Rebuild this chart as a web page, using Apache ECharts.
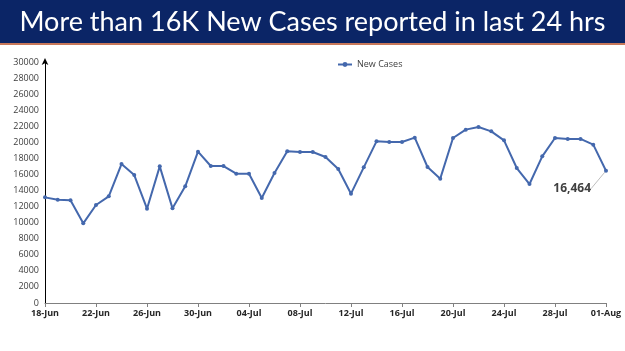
<!DOCTYPE html>
<html>
<head>
<meta charset="utf-8">
<title>New Cases</title>
<script src="https://cdn.jsdelivr.net/npm/echarts@6/dist/echarts.min.js"></script>
<style>
  html, body { margin: 0; padding: 0; background: #fff; }
  #main { width: 625px; height: 351px; }
</style>
</head>
<body>
<div id="main"></div>
<script>
// days from 18-Jun to 01-Aug
var dates = ['18-Jun','19-Jun','20-Jun','21-Jun','22-Jun','23-Jun','24-Jun','25-Jun','26-Jun','27-Jun','28-Jun','29-Jun','30-Jun',
  '01-Jul','02-Jul','03-Jul','04-Jul','05-Jul','06-Jul','07-Jul','08-Jul','09-Jul','10-Jul','11-Jul','12-Jul','13-Jul','14-Jul','15-Jul',
  '16-Jul','17-Jul','18-Jul','19-Jul','20-Jul','21-Jul','22-Jul','23-Jul','24-Jul','25-Jul','26-Jul','27-Jul','28-Jul','29-Jul','30-Jul',
  '31-Jul','01-Aug'];
var newCases = [13150, 12860, 12780, 9920, 12200, 13280, 17300, 15930, 11740, 17010, 11780, 14520, 18840,
  17050, 17050, 16100, 16100, 13070, 16180, 18880, 18800, 18800, 18170, 16680, 13610, 16890, 20120, 20040,
  20040, 20580, 16930, 15480, 20540, 21580, 21910, 21370, 20250, 16800, 14810, 18260, 20540, 20420, 20420,
  19710, 16464];
var titleText = 'More than 16K New Cases reported in last 24 hrs';

var chart = echarts.init(document.getElementById('main'));

var seriesData = newCases.map(function (v, i) {
  if (i === newCases.length - 1) {
    return {
      value: v,
      label: {
        show: true,
        position: 'left',
        formatter: function (p) { return p.value.toLocaleString('en-US'); },
        fontSize: 12,
        fontWeight: 'bold',
        color: '#404040',
        fontFamily: 'Open Sans'
      },
      labelLine: { show: true, lineStyle: { color: '#bfbfbf', width: 1 } }
    };
  }
  return v;
});

chart.setOption({
  animation: false,
  backgroundColor: '#fff',
  graphic: [
    { type: 'rect', shape: { x: 0, y: 0, width: 625, height: 43 }, style: { fill: '#0b2566' } },
    { type: 'rect', shape: { x: 0, y: 43, width: 625, height: 2 }, style: { fill: '#c8785a' } }
  ],
  title: {
    text: titleText,
    left: 'center',
    top: 4,
    textStyle: { color: '#fff', fontSize: 27, fontWeight: 'normal', fontFamily: 'Lato' }
  },
  legend: {
    data: ['New Cases'],
    left: 332,
    top: 55,
    itemWidth: 14,
    itemHeight: 6,
    itemGap: 2,
    textStyle: { fontSize: 9, color: '#404040', fontFamily: 'Open Sans' }
  },
  grid: { left: 45, right: 19, top: 62, bottom: 48, containLabel: false },
  xAxis: {
    type: 'category',
    data: dates,
    boundaryGap: false,
    axisLine: { lineStyle: { color: '#808080' } },
    axisTick: { show: true, interval: 3, length: 4, lineStyle: { color: '#808080' } },
    axisLabel: { interval: 3, fontSize: 9, fontWeight: 'bold', color: '#262626', fontFamily: 'Open Sans', margin: 6 }
  },
  yAxis: {
    type: 'value',
    min: 0,
    max: 30000,
    interval: 2000,
    splitLine: { show: false },
    axisLine: { show: true, symbol: ['none', 'arrow'], symbolSize: [5, 7], symbolOffset: [0, 4], lineStyle: { color: '#000' } },
    axisTick: { show: false },
    axisLabel: { fontSize: 9, color: '#404040', fontFamily: 'Open Sans', margin: 6, formatter: function (v) { return String(v); } }
  },
  series: [{
    name: 'New Cases',
    type: 'line',
    data: seriesData,
    symbol: 'circle',
    symbolSize: 4,
    showAllSymbol: true,
    itemStyle: { color: '#4468ad' },
    lineStyle: { color: '#4468ad', width: 2 },
    labelLayout: function (params) {
      if (params.dataIndex === newCases.length - 1) {
        return { dx: -8, dy: 18 };
      }
    }
  }]
});
</script>
</body>
</html>
